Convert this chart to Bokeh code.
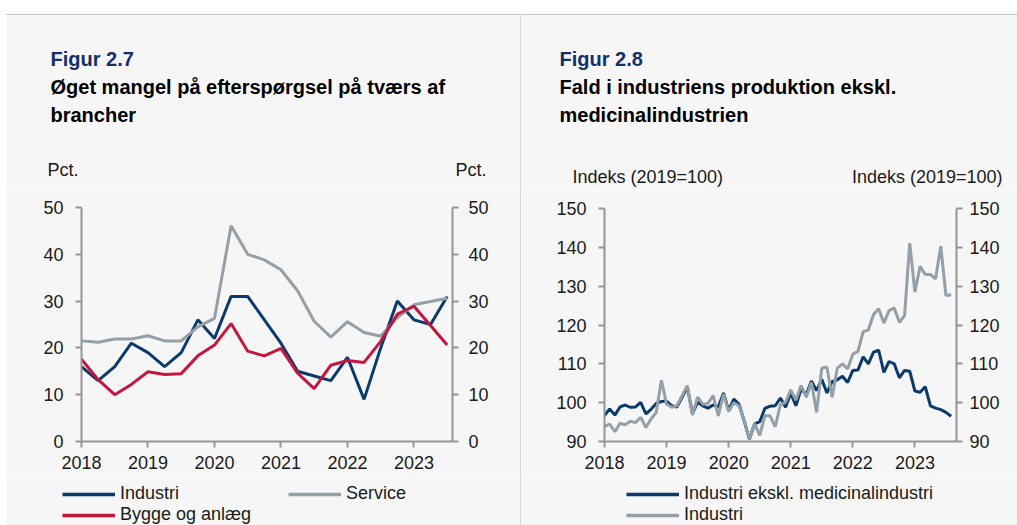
from bokeh.plotting import figure
from bokeh.models import Range1d, LinearAxis, FixedTicker, Label, Legend, LegendItem, Div, Spacer
from bokeh.layouts import row, column
from bokeh.embed import file_html
from bokeh.resources import INLINE

FONT = "Liberation Sans"
BG = "#f6f6f6"
NAVY = "#0b3a6c"
RED = "#c4173f"
GREY = "#949fa8"
AXIS = "#959595"
TXT = "#1a1a1a"
TITLE_BLUE = "#142f6b"

# ---------------- data: Figur 2.7 (quarterly, pct.) ----------------
years = [2018, 2019, 2020, 2021, 2022, 2023]
quarters = [2018 + i / 4 for i in range(23)]
industri_q = [16, 13, 16, 21, 19, 16, 19, 26, 22, 31, 31, 26, 21, 15, 14, 13, 18, 9, 20, 30, 26, 25, 31]
service_q = [21.5, 21.2, 21.9, 21.9, 22.6, 21.5, 21.5, 24.5, 26.3, 46.1, 40.0, 38.8, 36.7, 32.2,
             25.7, 22.3, 25.6, 23.3, 22.5, 26.5, 29.2, 29.9, 30.6]
bygge_q = [17.6, 13.2, 10.0, 12.2, 14.9, 14.3, 14.5, 18.3, 20.6, 25.2, 19.3, 18.3, 19.9, 14.6,
           11.3, 16.3, 17.3, 16.9, 21.4, 27.2, 28.9, 24.8, 20.6]
pct_ticks = [0, 10, 20, 30, 40, 50]

# ---------------- data: Figur 2.8 (monthly, index 2019=100) ----------------
months = [2018 + i / 12 for i in range(68)]
ind_ex_med = [96.7, 98.4, 96.8, 98.9, 99.4, 98.8, 98.9, 100.1, 97.1, 98.3, 99.8, 100.3,
              100.4, 99.2, 98.9, 101.4, 104.0, 97.2, 100.1, 99.2, 98.6, 99.4, 98.9, 102.5,
              98.0, 100.9, 99.6, 95.3, 90.6, 94.5, 95.1, 98.5, 99.1, 99.2, 101.2, 98.8,
              102.4, 99.2, 103.5, 102.1, 105.6, 103.1, 106.0, 102.5, 105.4, 105.9, 106.8, 105.2,
              108.3, 108.4, 111.8, 110.0, 113.0, 113.5, 107.8, 110.6, 110.0, 106.4, 108.3, 108.1,
              103.0, 102.7, 104.1, 99.2, 98.6, 98.2, 97.5, 96.5]
industri_m = [93.9, 94.5, 92.5, 94.7, 94.3, 95.2, 94.9, 96.2, 93.6, 95.8, 97.5, 105.8,
              99.6, 98.8, 99.2, 101.8, 104.4, 96.8, 101.4, 99.6, 99.8, 101.8, 96.6, 102.2,
              97.7, 100.0, 99.2, 95.5, 90.6, 94.6, 91.6, 96.6, 96.6, 93.8, 99.5, 100.1,
              103.3, 100.7, 104.4, 101.4, 105.2, 97.5, 108.9, 109.1, 101.4, 108.9, 110.0, 108.7,
              112.5, 113.2, 118.3, 118.7, 122.7, 124.2, 120.5, 123.7, 124.4, 120.7, 122.4, 141.1,
              128.5, 135.1, 133.0, 133.0, 131.9, 140.3, 127.6, 127.8]
idx_ticks = [90, 100, 110, 120, 130, 140, 150]

HEAD_H = 175
CHART_H = 286
FOOT_H = 49
LEFT_W = 514
RIGHT_W = 496
NAN = float("nan")


def no_align(p):
    try:
        p.frame_align = False
    except Exception:
        pass


def style_axis(ax, ticks, standoff):
    ax.ticker = FixedTicker(ticks=ticks)
    ax.axis_line_color = AXIS
    ax.axis_line_width = 2
    ax.major_tick_line_color = AXIS
    ax.major_tick_line_width = 2
    ax.major_tick_in = 0
    ax.major_tick_out = 6
    ax.minor_tick_line_color = None
    ax.major_label_text_font = FONT
    ax.major_label_text_font_size = "18px"
    ax.major_label_text_color = TXT
    ax.major_label_standoff = standoff


def make_blank(width, height):
    h = figure(width=width, height=height, x_range=Range1d(0, width), y_range=Range1d(0, height),
               output_backend="svg", toolbar_location=None,
               min_border_left=0, min_border_right=0, min_border_top=0, min_border_bottom=0)
    h.axis.visible = False
    h.grid.visible = False
    h.background_fill_color = BG
    h.border_fill_color = BG
    h.outline_line_color = None
    no_align(h)
    return h


def add_text(h, x, y, text, size="18px", bold=False, color=TXT, align="left"):
    h.add_layout(Label(x=x, y=y, text=text, text_font=FONT, text_font_size=size,
                       text_font_style="bold" if bold else "normal",
                       text_color=color, text_align=align, text_baseline="alphabetic"))


def make_chart(width, xr, yr, yticks, mbl, mbr, mbt, ls, rs):
    p = figure(width=width, height=CHART_H, x_range=Range1d(*xr), y_range=Range1d(*yr),
               output_backend="svg", toolbar_location=None,
               min_border_left=mbl, min_border_right=mbr, min_border_top=mbt, min_border_bottom=35)
    p.background_fill_color = BG
    p.border_fill_color = BG
    p.outline_line_color = None
    p.grid.visible = False
    no_align(p)
    p.add_layout(LinearAxis(), "right")
    style_axis(p.xaxis[0], years, 8)
    style_axis(p.yaxis[0], yticks, ls)
    style_axis(p.yaxis[1], yticks, rs)
    return p


def add_legend(f, entries, x, y):
    items = []
    for label, color in entries:
        key = f.line(x=[NAN], y=[NAN], line_color=color, line_width=3.5)
        items.append(LegendItem(label=label, renderers=[key]))
    f.add_layout(Legend(items=items, location=(x, y), orientation="vertical",
                        glyph_width=53, glyph_height=20, label_height=20,
                        label_standoff=5, spacing=0, padding=0, margin=0,
                        border_line_color=None, background_fill_alpha=0,
                        label_text_font=FONT, label_text_font_size="18px",
                        label_text_color=TXT))


# ---------------- left panel: Figur 2.7 ----------------
h1 = make_blank(LEFT_W, HEAD_H)
add_text(h1, 44, 132, "Figur 2.7", size="20px", bold=True, color=TITLE_BLUE)
add_text(h1, 44, 104, "Øget mangel på efterspørgsel på tværs af", size="20px", bold=True, color="#000000")
add_text(h1, 44, 76, "brancher", size="20px", bold=True, color="#000000")
add_text(h1, 41, 21, "Pct.")
add_text(h1, 480, 21, "Pct.", align="right")

p1 = make_chart(LEFT_W, (2018, 2023.58), (0, 50), pct_ticks, 75, 68, 17, 12, 10)
p1.line(quarters, industri_q, line_color=NAVY, line_width=3)
p1.line(quarters, service_q, line_color=GREY, line_width=3)
p1.line(quarters, bygge_q, line_color=RED, line_width=3)

f1 = make_blank(LEFT_W, FOOT_H)
add_legend(f1, [("Industri", NAVY), ("Bygge og anlæg", RED)], 56, 0)
add_legend(f1, [("Service", GREY)], 282, 21)

# ---------------- right panel: Figur 2.8 ----------------
h2 = make_blank(RIGHT_W, HEAD_H)
add_text(h2, 38, 132, "Figur 2.8", size="20px", bold=True, color=TITLE_BLUE)
add_text(h2, 38, 104, "Fald i industriens produktion ekskl.", size="20px", bold=True, color="#000000")
add_text(h2, 38, 76, "medicinalindustrien", size="20px", bold=True, color="#000000")
add_text(h2, 51, 14, "Indeks (2019=100)")
add_text(h2, 481, 14, "Indeks (2019=100)", align="right")

p2 = make_chart(RIGHT_W, (2018, 2023.67), (90, 150), idx_ticks, 83, 61, 18, 12, 7)
p2.line(months, ind_ex_med, line_color=NAVY, line_width=3)
p2.line(months, industri_m, line_color=GREY, line_width=3)

f2 = make_blank(RIGHT_W, FOOT_H)
add_legend(f2, [("Industri ekskl. medicinalindustri", NAVY), ("Industri", GREY)], 105, 0)

top_line = Div(text="", width=1011, height=1, margin=0, styles={"background-color": "#c4c4c4"})
sep = Div(text="", width=1, height=510, margin=0, styles={"background-color": "#d8d8d8"})
panels = row(column(h1, p1, f1, spacing=0), sep, column(h2, p2, f2, spacing=0), spacing=0)
layout = row(Spacer(width=6, height=525, margin=0),
             column(Spacer(width=1011, height=14, margin=0), top_line, panels, spacing=0),
             spacing=0)

open("out.html", "w").write(file_html(layout, INLINE))
